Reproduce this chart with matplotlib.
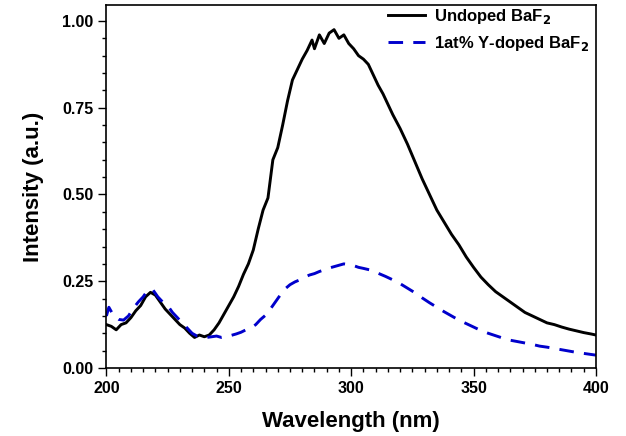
import matplotlib
matplotlib.use("Agg")
import matplotlib.pyplot as plt
from matplotlib.ticker import MultipleLocator

plt.rcParams['font.family'] = ['Liberation Sans', 'DejaVu Sans']
plt.rcParams['font.weight'] = 'bold'

undoped_wl = [200, 202, 204, 206, 208, 210, 212, 214, 216, 218, 220, 222, 224, 226, 228, 230,
              232, 234, 236, 238, 240, 242, 244, 246, 248, 250, 252, 254, 256, 258, 260, 262,
              264, 266, 268, 270, 272, 274, 276, 278, 280, 282, 284, 285, 287, 289, 291, 293,
              295, 297, 299, 301, 303, 305, 307, 309, 311, 313, 315, 317, 320, 323, 326, 329,
              332, 335, 338, 341, 344, 347, 350, 353, 356, 359, 362, 365, 368, 371, 374, 377,
              380, 383, 386, 389, 392, 395, 398, 400]
undoped_int = [0.125, 0.12, 0.11, 0.125, 0.13, 0.145, 0.165, 0.18, 0.205, 0.218, 0.21, 0.19,
               0.17, 0.155, 0.14, 0.125, 0.115, 0.10, 0.088, 0.095, 0.09, 0.095, 0.11, 0.13,
               0.155, 0.18, 0.205, 0.235, 0.27, 0.30, 0.34, 0.40, 0.455, 0.49, 0.60, 0.635,
               0.70, 0.77, 0.83, 0.86, 0.89, 0.915, 0.945, 0.92, 0.96, 0.935, 0.965, 0.975,
               0.95, 0.96, 0.935, 0.92, 0.90, 0.89, 0.875, 0.845, 0.815, 0.79, 0.76, 0.73,
               0.69, 0.645, 0.595, 0.545, 0.50, 0.455, 0.42, 0.385, 0.355, 0.32, 0.29, 0.262,
               0.24, 0.22, 0.205, 0.19, 0.175, 0.16, 0.15, 0.14, 0.13, 0.125, 0.118, 0.112,
               0.107, 0.102, 0.098, 0.095]

doped_wl = [200, 201, 203, 205, 207, 209, 211, 213, 215, 217, 219, 221, 223, 225, 227, 229,
            231, 233, 235, 237, 239, 241, 243, 245, 247, 249, 251, 253, 255, 257, 259, 261,
            263, 265, 267, 269, 271, 273, 275, 277, 279, 281, 283, 285, 287, 289, 291, 293,
            295, 297, 299, 301, 303, 305, 308, 311, 314, 317, 320, 323, 326, 329, 332, 335,
            338, 341, 344, 347, 350, 353, 356, 359, 362, 365, 368, 371, 374, 377, 380, 384,
            388, 392, 396, 400]
doped_int = [0.15, 0.175, 0.15, 0.14, 0.138, 0.15, 0.172, 0.19, 0.205, 0.225, 0.225, 0.205,
             0.19, 0.18, 0.16, 0.145, 0.13, 0.115, 0.10, 0.092, 0.09, 0.088, 0.09, 0.092,
             0.088, 0.09, 0.094, 0.098, 0.103, 0.11, 0.115, 0.125, 0.14, 0.152, 0.17, 0.19,
             0.21, 0.228, 0.24, 0.248, 0.254, 0.262, 0.268, 0.272, 0.278, 0.283, 0.288, 0.292,
             0.296, 0.30, 0.298, 0.295, 0.29, 0.287, 0.282, 0.273, 0.264, 0.254, 0.243, 0.23,
             0.217, 0.202, 0.188, 0.175, 0.162, 0.15, 0.138, 0.128, 0.118, 0.108, 0.10, 0.093,
             0.086, 0.08, 0.076, 0.072, 0.068, 0.063, 0.06, 0.055, 0.05, 0.045, 0.041, 0.037]

fig = plt.figure(figsize=(6.26, 4.36), dpi=100)
ax = fig.add_axes([0.170, 0.156, 0.782, 0.8325])

ax.plot(undoped_wl, undoped_int, color='black', lw=2.1, label='Undoped BaF$_2$')
ax.plot(doped_wl, doped_int, color='#0000CC', lw=2.1, dashes=(5, 3.5),
        label='1at% Y-doped BaF$_2$')

ax.set_xlim(200, 400)
ax.set_ylim(0, 1.046)
ax.xaxis.set_major_locator(MultipleLocator(50))
ax.xaxis.set_minor_locator(MultipleLocator(5))
ax.yaxis.set_major_locator(MultipleLocator(0.25))
ax.yaxis.set_minor_locator(MultipleLocator(0.05))
ax.yaxis.set_major_formatter(matplotlib.ticker.FormatStrFormatter('%.2f'))
ax.tick_params(which='major', direction='out', length=6, width=1.0, labelsize=11.5)
ax.tick_params(which='minor', direction='out', length=3, width=1.0)
for s in ax.spines.values():
    s.set_linewidth(1.2)
for lab in ax.get_xticklabels() + ax.get_yticklabels():
    lab.set_fontweight('bold')

ax.set_xlabel('Wavelength (nm)', fontsize=16, fontweight='bold', labelpad=11)
ax.set_ylabel('Intensity (a.u.)', fontsize=16, fontweight='bold', labelpad=13)

leg = ax.legend(loc='upper left', bbox_to_anchor=(0.572, 1.0), frameon=False, fontsize=12,
                handlelength=2.2, borderaxespad=0, borderpad=0.1, handletextpad=0.55,
                labelspacing=0.5)
for t in leg.get_texts():
    t.set_fontweight('bold')

fig.savefig('out.png', dpi=100)
